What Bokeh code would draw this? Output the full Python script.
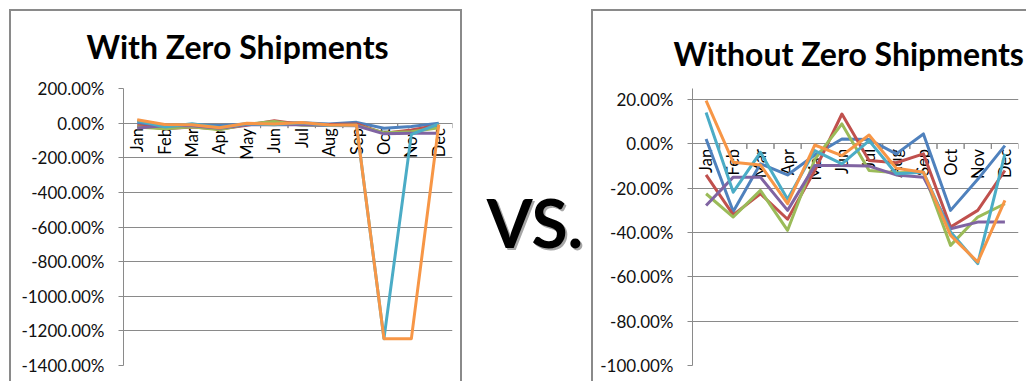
import math
from bokeh.plotting import figure
from bokeh.layouts import row
from bokeh.models import (Range1d, FactorRange, FixedTicker, PrintfTickFormatter,
                          Label, ColumnDataSource)
from bokeh.transform import dodge
from bokeh.core.properties import value
from bokeh.embed import file_html
from bokeh.resources import INLINE

# ---------------- data ----------------
months = ["Jan", "Feb", "Mar", "Apr", "May", "Jun", "Jul", "Aug", "Sep", "Oct", "Nov", "Dec"]
colors = ["#4F81BD", "#C0504D", "#9BBB59", "#8064A2", "#4BACC6", "#F79646"]

# "With Zero Shipments" (percent)
with_blue   = [2.2, -30.5, -9.0, -14.0, -5.0, 2.2, 2.0, -4.5, 4.5, -30.0, -20.0, -1.0]
with_red    = [-14.0, -32.0, -22.5, -34.0, -12.0, 13.5, -7.5, -8.5, -4.5, -58.0, -40.0, -12.0]
with_green  = [-22.5, -33.0, -21.0, -39.0, -7.0, 9.0, -12.0, -13.0, -12.8, -55.0, -50.0, -27.0]
with_purple = [-27.8, -15.0, -15.0, -30.0, -9.8, -9.8, -10.0, -14.0, -15.0, -62.0, -58.0, -58.0]
with_aqua   = [14.2, -21.8, -3.8, -25.0, -3.0, -9.0, 1.5, -13.5, -12.8, -1245.0, -65.0, -5.0]
with_orange = [19.5, -8.3, -9.5, -27.0, -0.5, -5.3, 4.0, -11.0, -12.8, -1245.0, -1245.0, -8.0]

# "Without Zero Shipments" (percent)
wo_blue   = [2.2, -30.5, -9.0, -14.0, -5.0, 2.2, 2.0, -4.5, 4.5, -30.0, -16.0, -0.8]
wo_red    = [-14.0, -32.0, -22.5, -34.0, -12.0, 13.5, -7.5, -8.5, -4.5, -37.5, -30.0, -12.0]
wo_green  = [-22.5, -33.0, -21.0, -39.0, -7.0, 9.0, -12.0, -13.0, -12.8, -45.8, -33.0, -27.0]
wo_purple = [-27.8, -15.0, -15.0, -30.0, -9.8, -9.8, -10.0, -14.0, -15.0, -38.3, -35.3, -35.3]
wo_aqua   = [14.2, -21.8, -3.8, -25.0, -3.0, -9.0, 1.5, -13.5, -12.8, -39.8, -54.0, -4.5]
wo_orange = [19.5, -8.3, -9.5, -27.0, -0.5, -5.3, 4.0, -11.0, -12.8, -41.3, -53.3, -25.5]

left_ticks = [-1400, -1200, -1000, -800, -600, -400, -200, 0, 200]
right_ticks = [-100, -80, -60, -40, -20, 0, 20]

GRAY = "#8a8a8a"
FONT = "Lato"


def make_chart(width, title, series, y0, y1, ticks, mb, title_offset, title_standoff):
    p = figure(width=width, height=381, x_range=FactorRange(*months),
               y_range=Range1d(y0, y1), output_backend="svg", toolbar_location=None,
               min_border_left=mb[0], min_border_right=mb[1],
               min_border_top=mb[2], min_border_bottom=mb[3])
    p.xaxis.visible = False
    p.xgrid.visible = False
    p.outline_line_color = None
    p.background_fill_color = None
    p.border_fill_color = None

    p.title.text = title
    p.title.align = "left"
    p.title.offset = title_offset
    p.title.standoff = title_standoff
    p.title.text_font = FONT
    p.title.text_font_style = "bold"
    p.title.text_font_size = "32px"
    p.title.text_color = "black"

    ax = p.yaxis[0]
    ax.ticker = FixedTicker(ticks=ticks)
    ax.formatter = PrintfTickFormatter(format="%.2f%%")
    ax.axis_line_color = GRAY
    ax.axis_line_width = 1
    ax.major_tick_line_color = GRAY
    ax.major_tick_out = 5
    ax.major_tick_in = 0
    ax.minor_tick_line_color = None
    ax.major_label_text_font = FONT
    ax.major_label_text_font_size = "17px"
    ax.major_label_text_color = "#111111"
    ax.major_label_standoff = 14
    p.ygrid.grid_line_color = GRAY
    p.ygrid.grid_line_width = 1

    # category axis crossing at zero
    src = ColumnDataSource(dict(m=months))
    p.ray(x=dodge("m", -0.5, range=p.x_range), y=0, source=src, length=5,
          length_units="screen", angle=-math.pi / 2, line_color=GRAY, line_width=1)
    p.ray(x=dodge("m", 0.5, range=p.x_range), y=0, source=src, length=5,
          length_units="screen", angle=-math.pi / 2, line_color=GRAY, line_width=1)
    p.text(x="m", y=0, text="m", source=src, angle=math.pi / 2,
           text_align="right", text_baseline="middle", y_offset=5,
           text_font=value(FONT), text_font_size="16.5px", text_color="black")

    for vals, c in zip(series, colors):
        p.line(x=months, y=vals, line_color=c, line_width=3, line_join="round")
    return p


pL = make_chart(470, "With Zero Shipments",
                [with_blue, with_red, with_green, with_purple, with_aqua, with_orange],
                -1400, 200, left_ticks, (123, 18, 87, 16), -37, 46)

pR = make_chart(436, "Without Zero Shipments",
                [wo_blue, wo_red, wo_green, wo_purple, wo_aqua, wo_orange],
                -100, 25, right_ticks, (102, 8, 88, 16), -19, 32)

pV = figure(width=120, height=381, x_range=Range1d(0, 120), y_range=Range1d(0, 381),
            output_backend="svg", toolbar_location=None, x_axis_location=None,
            y_axis_location=None, min_border=0)
pV.grid.visible = False
pV.outline_line_color = None
pV.background_fill_color = None
pV.border_fill_color = None
pV.add_layout(Label(x=66.5, y=224, x_units="canvas", y_units="canvas", text="VS.",
                    text_align="center", text_baseline="alphabetic", text_font=FONT,
                    text_font_style="bold", text_font_size="66px", text_color="#a6a6a6"))
pV.add_layout(Label(x=64.5, y=222, x_units="canvas", y_units="canvas", text="VS.",
                    text_align="center", text_baseline="alphabetic", text_font=FONT,
                    text_font_style="bold", text_font_size="66px", text_color="black"))

# chart-area frames of the two Excel charts (drawn behind the transparent canvases)
frame_css = {
    "background-color": "white",
    "background-image": ", ".join(["linear-gradient(#8a8a8a, #8a8a8a)"] * 5),
    "background-position": "9px 9px, 9px 9px, 460px 9px, 591px 9px, 591px 9px",
    "background-size": "453px 2px, 2px 372px, 2px 372px, 435px 2px, 2px 372px",
    "background-repeat": "no-repeat",
}

layout = row(pL, pV, pR, styles=frame_css)
open("out.html", "w").write(file_html(layout, INLINE))
